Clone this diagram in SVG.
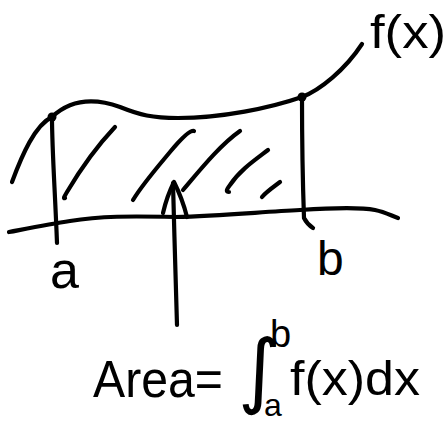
<svg xmlns="http://www.w3.org/2000/svg" width="448" height="422" viewBox="0 0 448 422">
<style>
.ink{fill:none;stroke:#000;stroke-width:4.2;stroke-linecap:round;stroke-linejoin:round}
.t{font-family:"Liberation Sans","DejaVu Sans",sans-serif;fill:#000}
.m{font-family:"DejaVu Sans","Liberation Sans",sans-serif;fill:#000}
</style>
<rect width="448" height="422" fill="#fff"/>
<g id="curve">
<path class="ink" d="M12,182 C22,155 35,125 52,117 C70,100 92,97 120,107 C140,115 152,118 178,118 C222,118 270,108 302,97 C320,90 345,70 362,44"/>
<circle cx="52" cy="117" r="4.5"/>
<circle cx="302" cy="97" r="4.5"/>
<text class="t" x="370" y="48" font-size="47" textLength="76" lengthAdjust="spacingAndGlyphs">f(x)</text>
</g>
<g id="bounds">
<path class="ink" d="M52,117 C52,150 55,190 57,243"/>
<path class="ink" d="M302,98 C302,140 303,190 304,218 C306,222 310,226 313,228"/>
</g>
<g id="axis">
<path class="ink" d="M9,232 C30,228 50,224 70,221 C100,216 130,216 175,217 C220,216 260,212 300,210 C330,208 360,207 375,210 C385,212 392,216 398,218"/>
<text class="t" x="50" y="288" font-size="52">a</text>
<text class="t" x="317" y="275" font-size="48">b</text>
</g>
<g id="hatch">
<path class="ink" d="M115,127 C98,145 80,170 67,192 C64,197 63,199 65,198"/>
<path class="ink" d="M194,131 C190,130 180,140 170,152 C155,170 142,185 133,200"/>
<path class="ink" d="M240,131 C220,145 200,170 183,190"/>
<path class="ink" d="M268,150 C255,160 240,170 230,185 C226,190 226,192 229,192"/>
<path class="ink" d="M280,182 C272,188 266,192 262,197"/>
</g>
<g id="connectors">
<path class="ink" d="M177,325 C176,280 174,230 173,183"/>
<path class="ink" d="M163,213 C166,200 170,190 174,182 C179,192 184,205 187,217"/>
</g>
<g id="formula">
<text class="t" x="93" y="397" font-size="52" textLength="130" lengthAdjust="spacingAndGlyphs">Area=</text>
<text class="m" x="238" y="398" font-size="82">∫</text>
<text class="t" x="270" y="347" font-size="38">b</text>
<text class="t" x="264" y="416" font-size="32">a</text>
<text class="t" x="290" y="395" font-size="48" textLength="130" lengthAdjust="spacingAndGlyphs">f(x)dx</text>
</g>
</svg>
